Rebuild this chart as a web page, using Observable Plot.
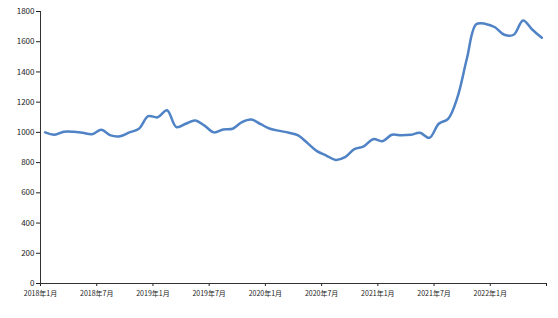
<!DOCTYPE html>
<html>
<head>
<meta charset="utf-8">
<script src="https://cdn.jsdelivr.net/npm/d3@7"></script>
<script src="https://cdn.jsdelivr.net/npm/@observablehq/plot@0.6"></script>
<style>
  html, body { margin: 0; padding: 0; background: #fff; }
  #chart svg { display: block; }
</style>
</head>
<body>
<div id="chart"></div>
<script>
// Monthly values, 2018年1月 … 2022年6月
const startYear = 2018;
const values = [
  1000, 985, 1004, 1004, 997, 988, 1017, 980, 975, 1000, 1024, 1107,
  1100, 1147, 1035, 1057, 1079, 1045, 1000, 1019, 1024, 1068, 1085, 1054,
  1024, 1010, 998, 980, 929, 876, 847, 818, 836, 889, 907, 955,
  942, 984, 981, 984, 997, 964, 1057, 1090, 1233, 1487, 1716, 1718,
  1696, 1646, 1646, 1740, 1679, 1626
];
const xTickPositions = [0, 6, 12, 18, 24, 30, 36, 42, 48, 54];
const xTickLabels = ["2018年1月", "2018年7月", "2019年1月", "2019年7月", "2020年1月", "2020年7月", "2021年1月", "2021年7月", "2022年1月", ""];
const yTicks = [0, 200, 400, 600, 800, 1000, 1200, 1400, 1600, 1800];

const data = values.map((v, i) => ({idx: i + 0.5, value: v}));

const chart = Plot.plot({
  width: 558,
  height: 318,
  marginLeft: 40,
  marginRight: 12,
  marginTop: 11,
  marginBottom: 35,
  style: {fontFamily: "'Noto Sans CJK SC', 'DejaVu Sans', sans-serif", background: "#fff"},
  x: {domain: [0, values.length], type: "linear"},
  y: {domain: [0, 1800]},
  marks: [
    Plot.axisY({ticks: yTicks, tickSize: 4, tickPadding: 2, fontSize: 8, color: "#222", label: null, tickFormat: d => String(d)}),
    Plot.axisX({ticks: xTickPositions, tickSize: 3, tickPadding: 5, fontSize: 7, color: "#222", label: null,
      tickFormat: d => xTickLabels[xTickPositions.indexOf(d)]}),
    Plot.ruleX([0], {stroke: "#333", strokeWidth: 1}),
    Plot.ruleY([0], {stroke: "#333", strokeWidth: 1}),
    Plot.line(data, {x: "idx", y: "value", stroke: "#4f83c6", strokeWidth: 2.5, curve: "catmull-rom"})
  ]
});
document.getElementById("chart").appendChild(chart);
</script>
</body>
</html>
